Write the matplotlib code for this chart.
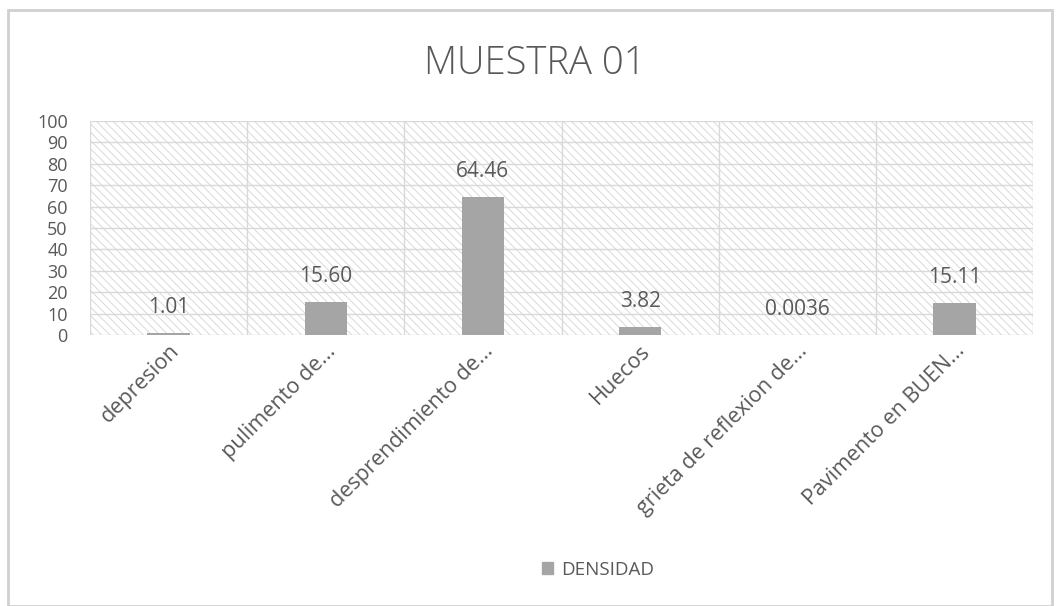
import matplotlib
matplotlib.use("Agg")
import matplotlib.pyplot as plt
from matplotlib.patches import Rectangle, Patch

categories = ["depresion", "pulimento de...", "desprendimiento de...", "Huecos",
              "grieta de reflexion de...", "Pavimento en BUEN..."]
values = [1.01, 15.60, 64.46, 3.82, 0.0036, 15.11]
value_labels = ["1.01", "15.60", "64.46", "3.82", "0.0036", "15.11"]
yticks = [0, 10, 20, 30, 40, 50, 60, 70, 80, 90, 100]
series_name = "DENSIDAD"
title = "MUESTRA 01"

plt.rcParams['font.family'] = ['Open Sans', 'DejaVu Sans']
plt.rcParams['hatch.linewidth'] = 0.6
txt = '#595959'

fig = plt.figure(figsize=(10.6, 6.06), dpi=100)
fig.patches.append(Rectangle((8/1060, 0), 1044/1060, 1 - 10/606, transform=fig.transFigure,
                             fill=False, edgecolor='#d0d0d0', linewidth=2))
ax = fig.add_axes([90/1060, 1 - 335/606, 943/1060, 214/606])
ax.add_patch(Rectangle((0, 0), 1, 1, transform=ax.transAxes, facecolor='white',
                       edgecolor='#d3d3d3', hatch='\\\\\\\\', linewidth=0, zorder=0))
x = list(range(len(categories)))
ax.bar(x, values, width=0.27, color='#a5a5a5', zorder=3)
ax.set_xlim(-0.5, len(categories) - 0.5)
ax.set_ylim(0, 100)
ax.set_yticks(yticks)
ax.set_yticklabels([str(t) for t in yticks], fontsize=13, color=txt)
for t in yticks:
    ax.axhline(t, color='#d9d9d9', linewidth=1, zorder=1)
for b in range(len(categories) + 1):
    ax.axvline(b - 0.5, color='#d9d9d9', linewidth=1, zorder=1)
ax.set_xticks(x)
ax.set_xticklabels(categories, rotation=45, ha='right', rotation_mode='anchor',
                   fontsize=15.5, color=txt)
ax.tick_params(axis='both', length=0)
ax.tick_params(axis='x', pad=4)
ax.tick_params(axis='y', pad=16)
for s in ax.spines.values():
    s.set_visible(False)
for xi, v, lab in zip(x, values, value_labels):
    ax.text(xi, v + 7, lab, ha='center', va='bottom', fontsize=15, color=txt, zorder=4)
fig.text(535/1060, 1 - 64/606, title, ha='center', va='center', fontsize=27.5, color=txt,
         fontweight='light')
fig.legend(handles=[Patch(color='#a5a5a5', label=series_name)], loc='center',
           bbox_to_anchor=(598/1060, 1 - 570/606), frameon=False, fontsize=13.5,
           handlelength=0.6, handleheight=0.6, handletextpad=0.4, labelcolor=txt)
fig.savefig("out.png", dpi=100)
